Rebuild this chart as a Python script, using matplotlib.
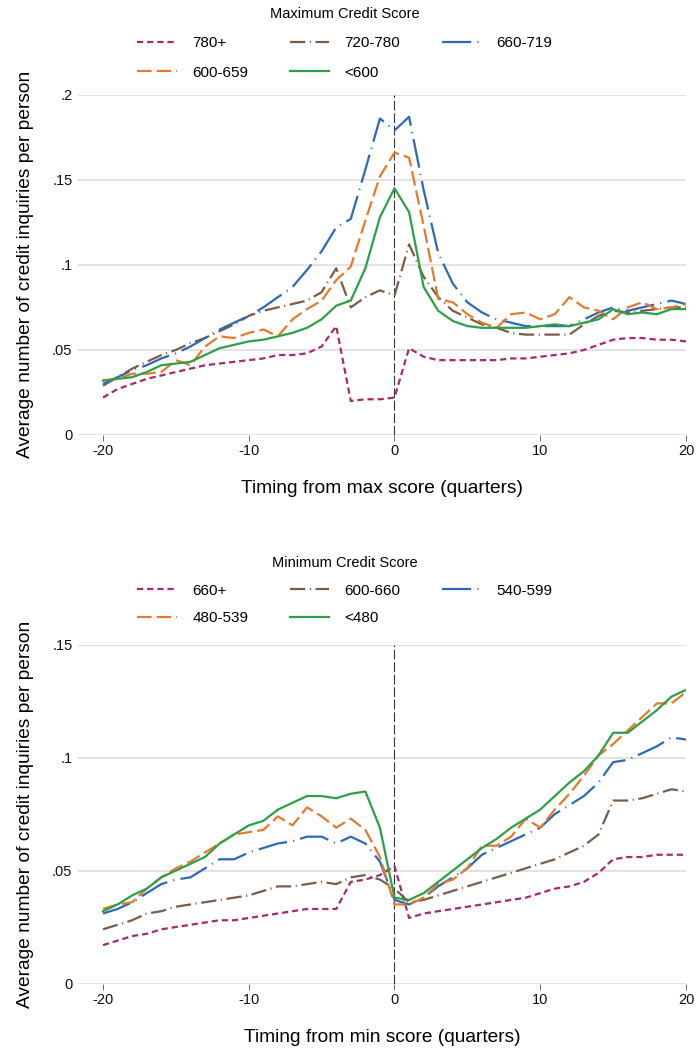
import matplotlib
matplotlib.use("Agg")
import matplotlib.pyplot as plt

plt.rcParams['font.family'] = ['Liberation Sans', 'DejaVu Sans']
plt.rcParams['axes.unicode_minus'] = False
plt.rcParams['lines.scale_dashes'] = False

quarters = list(range(-20, 21))

# top panel: maximum credit score groups
max_780 = [0.022, 0.027, 0.030, 0.033, 0.035, 0.037, 0.039, 0.041, 0.042, 0.043, 0.044,
           0.045, 0.047, 0.047, 0.048, 0.052, 0.064, 0.020, 0.021, 0.021, 0.022,
           0.051, 0.046, 0.044, 0.044, 0.044, 0.044, 0.044, 0.045, 0.045, 0.046,
           0.047, 0.048, 0.050, 0.053, 0.056, 0.057, 0.057, 0.056, 0.056, 0.055]
max_720 = [0.029, 0.034, 0.039, 0.043, 0.047, 0.050, 0.054, 0.057, 0.061, 0.065, 0.070,
           0.073, 0.075, 0.077, 0.079, 0.084, 0.098, 0.075, 0.081, 0.085, 0.082,
           0.112, 0.093, 0.081, 0.073, 0.069, 0.065, 0.063, 0.060, 0.059, 0.059,
           0.059, 0.059, 0.065, 0.070, 0.073, 0.072, 0.073, 0.074, 0.075, 0.075]
max_660 = [0.030, 0.034, 0.038, 0.041, 0.045, 0.048, 0.052, 0.057, 0.062, 0.066, 0.070,
           0.075, 0.081, 0.087, 0.097, 0.108, 0.122, 0.127, 0.156, 0.186, 0.179,
           0.187, 0.144, 0.107, 0.089, 0.078, 0.072, 0.068, 0.066, 0.064, 0.064,
           0.064, 0.064, 0.068, 0.072, 0.075, 0.073, 0.075, 0.077, 0.079, 0.077]
max_600 = [0.032, 0.033, 0.036, 0.036, 0.037, 0.044, 0.041, 0.052, 0.058, 0.057, 0.060,
           0.062, 0.058, 0.068, 0.074, 0.079, 0.091, 0.099, 0.126, 0.152, 0.166,
           0.163, 0.123, 0.080, 0.078, 0.071, 0.066, 0.063, 0.071, 0.072, 0.068,
           0.071, 0.081, 0.075, 0.073, 0.068, 0.075, 0.078, 0.074, 0.075, 0.077]
max_lt600 = [0.032, 0.033, 0.034, 0.037, 0.041, 0.042, 0.043, 0.047, 0.051, 0.053, 0.055,
             0.056, 0.058, 0.060, 0.063, 0.068, 0.076, 0.079, 0.098, 0.128, 0.145,
             0.131, 0.087, 0.073, 0.067, 0.064, 0.063, 0.063, 0.063, 0.063, 0.064,
             0.065, 0.064, 0.066, 0.068, 0.074, 0.071, 0.072, 0.071, 0.074, 0.074]

# bottom panel: minimum credit score groups
min_660 = [0.017, 0.019, 0.021, 0.022, 0.024, 0.025, 0.026, 0.027, 0.028, 0.028, 0.029,
           0.030, 0.031, 0.032, 0.033, 0.033, 0.033, 0.045, 0.046, 0.048, 0.052,
           0.029, 0.031, 0.032, 0.033, 0.034, 0.035, 0.036, 0.037, 0.038, 0.040,
           0.042, 0.043, 0.045, 0.049, 0.055, 0.056, 0.056, 0.057, 0.057, 0.057]
min_600 = [0.024, 0.026, 0.028, 0.031, 0.032, 0.034, 0.035, 0.036, 0.037, 0.038, 0.039,
           0.041, 0.043, 0.043, 0.044, 0.045, 0.044, 0.047, 0.048, 0.046, 0.042,
           0.036, 0.037, 0.039, 0.041, 0.043, 0.045, 0.047, 0.049, 0.051, 0.053,
           0.055, 0.058, 0.061, 0.066, 0.081, 0.081, 0.082, 0.084, 0.086, 0.085]
min_540 = [0.031, 0.033, 0.036, 0.040, 0.044, 0.046, 0.047, 0.051, 0.055, 0.055, 0.058,
           0.060, 0.062, 0.063, 0.065, 0.065, 0.062, 0.065, 0.062, 0.054, 0.037,
           0.035, 0.038, 0.043, 0.047, 0.051, 0.057, 0.060, 0.063, 0.066, 0.069,
           0.075, 0.079, 0.083, 0.089, 0.098, 0.099, 0.102, 0.105, 0.109, 0.108]
min_480 = [0.033, 0.035, 0.036, 0.042, 0.047, 0.051, 0.054, 0.058, 0.062, 0.066, 0.067,
           0.068, 0.074, 0.070, 0.078, 0.074, 0.069, 0.073, 0.068, 0.056, 0.035,
           0.035, 0.038, 0.044, 0.046, 0.051, 0.061, 0.061, 0.065, 0.073, 0.069,
           0.077, 0.084, 0.092, 0.101, 0.106, 0.112, 0.118, 0.124, 0.124, 0.129]
min_lt480 = [0.032, 0.035, 0.039, 0.042, 0.047, 0.050, 0.053, 0.056, 0.062, 0.066, 0.070,
             0.072, 0.077, 0.080, 0.083, 0.083, 0.082, 0.084, 0.085, 0.069, 0.038,
             0.037, 0.040, 0.045, 0.050, 0.055, 0.060, 0.064, 0.069, 0.073, 0.077,
             0.083, 0.089, 0.094, 0.101, 0.111, 0.111, 0.116, 0.121, 0.127, 0.130]

top_labels = ['780+', '720-780', '660-719', '600-659', '<600']
bot_labels = ['660+', '600-660', '540-599', '480-539', '<480']

colors = ['#a52a6f', '#7a5d48', '#2d69b5', '#e5792e', '#2f9f47']
dashes = [(4.5, 2.8), (11, 3.3, 0.8, 3.3), (21, 4.5, 0.8, 4.5), (10.5, 3.6), None]

W, H = 696, 1048
fig = plt.figure(figsize=(W / 100, H / 100), dpi=100)


def panel(rect, series, labels, ymax, yticks, yticklabels, xlabel, title, leg_top, lsp):
    ax = fig.add_axes(rect)
    lines = []
    for s, lab, c, d in zip(series, labels, colors, dashes):
        ln, = ax.plot(quarters, s, color=c, lw=1.6, label=lab)
        if d is not None:
            ln.set_dashes(d)
        lines.append(ln)
    ax.axvline(0, color='#333333', lw=0.8, dashes=(7, 2), zorder=1)
    ax.set_xlim(-21.715, 20)
    ax.set_ylim(0, ymax)
    ax.set_yticks(yticks)
    ax.set_yticklabels(yticklabels)
    ax.set_xticks([-20, -10, 0, 10, 20])
    ax.set_xticklabels(['-20', '-10', '0', '10', '20'])
    ax.grid(axis='y', color='#dedede', lw=1.2)
    ax.set_axisbelow(True)
    for sp in ax.spines.values():
        sp.set_visible(False)
    ax.tick_params(axis='y', length=0, pad=4, labelsize=10.5, colors='#111111')
    ax.tick_params(axis='x', length=4.5, width=0.6, color='#555555', pad=2,
                   labelsize=10.5, labelcolor='#111111')
    ax.set_ylabel('Average number of credit inquiries per person', fontsize=13.8)
    ax.yaxis.set_label_coords(-0.072, 0.5)
    ax.set_xlabel(xlabel, fontsize=13.8)
    ax.xaxis.set_label_coords(0.5, -0.133)
    order = [0, 3, 1, 4, 2]
    fig.legend([lines[i] for i in order], [labels[i] for i in order],
               ncol=3, title=title, loc='upper center',
               bbox_to_anchor=(345 / W, 1 - leg_top / H),
               frameon=False, fontsize=11, title_fontsize=10.5,
               handlelength=2.6, handletextpad=1.0, columnspacing=2.7,
               labelspacing=lsp, borderpad=0, borderaxespad=0)
    return ax


panel([78 / W, 1 - 435 / H, 608 / W, 340.3 / H],
      [max_780, max_720, max_660, max_600, max_lt600], top_labels,
      0.2, [0, 0.05, 0.1, 0.15, 0.2], ['0', '.05', '.1', '.15', '.2'],
      'Timing from max score (quarters)', 'Maximum Credit Score', 7, 1.0)

panel([78 / W, 1 - 983.5 / H, 608 / W, 338.8 / H],
      [min_660, min_600, min_540, min_480, min_lt480], bot_labels,
      0.15, [0, 0.05, 0.1, 0.15], ['0', '.05', '.1', '.15'],
      'Timing from min score (quarters)', 'Minimum Credit Score', 556, 0.9)

fig.savefig('out.png', dpi=100)
